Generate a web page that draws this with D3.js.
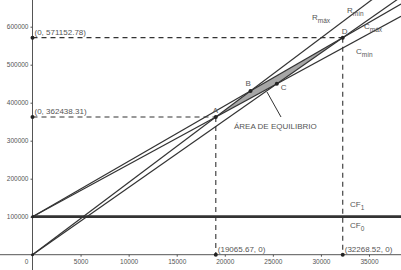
<!DOCTYPE html>
<html>
<head>
<meta charset="utf-8">
<script src="https://cdn.jsdelivr.net/npm/d3@7"></script>
<style>
  body { margin: 0; background: #fff; }
  text { font-family: "Liberation Sans", Arial, sans-serif; }
</style>
</head>
<body>
<div id="chart"></div>
<script>
// axis ticks
var ticksX = [5000, 10000, 15000, 20000, 25000, 30000, 35000];
var ticksY = [100000, 200000, 300000, 400000, 500000, 600000];

// fixed costs (horizontal lines)
var fixedNames = ["1", "0"];
var fixedValues = [100000, 100000];

// revenue lines R = p * q
var revNames = ["máx", "mín"];
var revSlopes = [19.01, 17.70];

// cost lines C = CF + cv * q
var costNames = ["máx", "mín"];
var costSlopes = [14.60, 13.765];

// labelled points
var ptNames = ["A", "B", "C", "D"];
var ptX = [19065.67, 22676, 25413, 32268.52];
var ptY = [362438.31, 431080, 449810, 571152.78];

var width = 401, height = 270;

var svg = d3.select("#chart").append("svg")
  .attr("width", width)
  .attr("height", height);

var x = d3.scaleLinear().domain([0, 35000]).range([32.5, 369]);
var y = d3.scaleLinear().domain([0, 600000]).range([254.7, 26.7]);
var xMax = x.invert(width), yMax = y.invert(0);

var ink = "#333";
var soft = "#555";

// axes lines
svg.append("line")
  .attr("x1", 0).attr("x2", width)
  .attr("y1", y(0)).attr("y2", y(0))
  .attr("stroke", soft).attr("stroke-width", 1);
svg.append("line")
  .attr("x1", x(0)).attr("x2", x(0))
  .attr("y1", 0).attr("y2", height)
  .attr("stroke", soft).attr("stroke-width", 1);

var gx = svg.append("g")
  .attr("transform", "translate(0," + y(0) + ")")
  .call(d3.axisBottom(x).tickValues(ticksX).tickSize(2).tickPadding(3).tickFormat(d3.format("d")));
var gy = svg.append("g")
  .attr("transform", "translate(" + x(0) + ",0)")
  .call(d3.axisLeft(y).tickValues(ticksY).tickSize(2).tickPadding(2).tickFormat(d3.format("d")));
[gx, gy].forEach(function(g) {
  g.select(".domain").remove();
  g.selectAll(".tick line").attr("stroke", soft);
  g.selectAll(".tick text").attr("fill", soft).style("font-size", "6.5px").style("font-family", "Liberation Sans, Arial, sans-serif");
});
svg.append("text")
  .attr("x", x(0) - 6).attr("y", y(0) + 9)
  .attr("text-anchor", "middle")
  .attr("fill", soft).style("font-size", "6.5px")
  .text("0");

// shaded equilibrium area A-B-D-C
var poly = [0, 1, 3, 2].map(function(i) { return [x(ptX[i]), y(ptY[i])]; });
svg.append("path")
  .attr("d", "M" + poly.join("L") + "Z")
  .attr("fill", "#888")
  .attr("fill-opacity", 0.75)
  .attr("stroke", "none");

// fixed cost lines
fixedValues.forEach(function(v) {
  svg.append("line")
    .attr("x1", x(0)).attr("x2", width)
    .attr("y1", y(v)).attr("y2", y(v))
    .attr("stroke", ink).attr("stroke-width", 2.5);
});

// revenue lines
revSlopes.forEach(function(p) {
  svg.append("line")
    .attr("x1", x(0)).attr("y1", y(0))
    .attr("x2", x(xMax)).attr("y2", y(p * xMax))
    .attr("stroke", ink).attr("stroke-width", 1.2);
});

// cost lines
costSlopes.forEach(function(c) {
  svg.append("line")
    .attr("x1", x(0)).attr("y1", y(fixedValues[1]))
    .attr("x2", x(xMax)).attr("y2", y(fixedValues[1] + c * xMax))
    .attr("stroke", ink).attr("stroke-width", 1.2);
});

// dashed guides for A and D
[0, 3].forEach(function(i) {
  svg.append("line")
    .attr("x1", x(0)).attr("x2", x(ptX[i]))
    .attr("y1", y(ptY[i])).attr("y2", y(ptY[i]))
    .attr("stroke", ink).attr("stroke-width", 1.1)
    .attr("stroke-dasharray", "5,4");
  svg.append("line")
    .attr("x1", x(ptX[i])).attr("x2", x(ptX[i]))
    .attr("y1", y(ptY[i])).attr("y2", y(0))
    .attr("stroke", ink).attr("stroke-width", 1.1)
    .attr("stroke-dasharray", "5,4");
});

// points
var dots = [];
ptX.forEach(function(v, i) { dots.push([ptX[i], ptY[i]]); });
[0, 3].forEach(function(i) {
  dots.push([0, ptY[i]]);
  dots.push([ptX[i], 0]);
});
svg.selectAll("circle.pt").data(dots).enter().append("circle")
  .attr("class", "pt")
  .attr("cx", function(d) { return x(d[0]); })
  .attr("cy", function(d) { return y(d[1]); })
  .attr("r", 2)
  .attr("fill", "#222");
// line start points
[[0, 0], [0, fixedValues[1]]].forEach(function(d) {
  svg.append("circle")
    .attr("cx", x(d[0])).attr("cy", y(d[1]))
    .attr("r", 1.5).attr("fill", "#222");
});

// point letters
var letterOff = [[-3, -4], [-5, -5], [4, 6], [-1, -4]];
ptNames.forEach(function(n, i) {
  svg.append("text")
    .attr("x", x(ptX[i]) + letterOff[i][0])
    .attr("y", y(ptY[i]) + letterOff[i][1])
    .attr("fill", soft).style("font-size", "8px")
    .text(n);
});

// coordinate labels
var fmt = d3.format(".2f");
[0, 3].forEach(function(i) {
  svg.append("text")
    .attr("x", x(0) + 2).attr("y", y(ptY[i]) - 3)
    .attr("fill", soft).style("font-size", "8px")
    .text("(0, " + fmt(ptY[i]) + ")");
  svg.append("text")
    .attr("x", x(ptX[i]) + 2).attr("y", y(0) - 3)
    .attr("fill", soft).style("font-size", "8px")
    .text("(" + fmt(ptX[i]) + ", 0)");
});

// line labels with subscripts
function subLabel(px, py, main, sub) {
  var t = svg.append("text")
    .attr("x", px).attr("y", py)
    .attr("fill", soft).style("font-size", "8px");
  t.append("tspan").text(main);
  t.append("tspan").attr("dy", 2.5).style("font-size", "6.5px").text(sub);
}
subLabel(312, 20, "R", revNames[0]);
subLabel(347, 13, "R", revNames[1]);
subLabel(364, 29, "C", costNames[0]);
subLabel(356, 54, "C", costNames[1]);
subLabel(350, 207, "CF", fixedNames[0]);
subLabel(350, 228, "CF", fixedNames[1]);

// area annotation
svg.append("line")
  .attr("x1", 267).attr("y1", 92)
  .attr("x2", 281).attr("y2", 117)
  .attr("stroke", ink).attr("stroke-width", 1);
svg.append("text")
  .attr("x", 234).attr("y", 129)
  .attr("fill", soft).style("font-size", "8px")
  .text("ÁREA DE EQUILIBRIO");
</script>
</body>
</html>
